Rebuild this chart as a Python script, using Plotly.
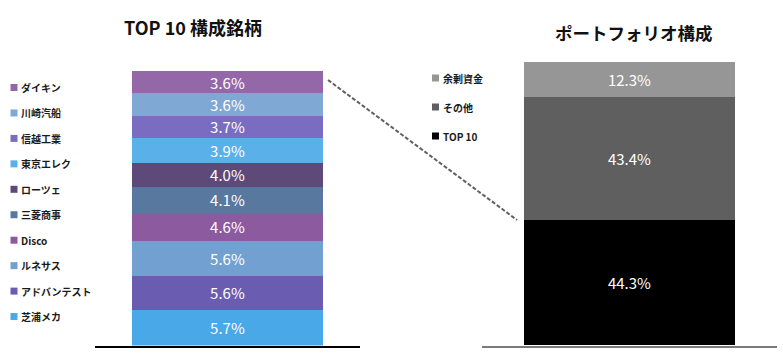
import plotly.graph_objects as go

W, H = 783, 357

# ---- data ----
top10_names = ["芝浦メカ", "アドバンテスト", "ルネサス", "Disco", "三菱商事",
               "ローツェ", "東京エレク", "信越工業", "川崎汽船", "ダイキン"]
top10_values = [5.7, 5.6, 5.6, 4.6, 4.1, 4.0, 3.9, 3.7, 3.6, 3.6]
top10_colors = ["#48A8E8", "#6A5CB0", "#72A0D0", "#8C5A9E", "#5878A0",
                "#5E4A78", "#5AB0E8", "#7A6CC0", "#7FA8D4", "#9468A8"]

port_names = ["TOP 10", "その他", "余剰資金"]
port_values = [44.3, 43.4, 12.3]
port_colors = ["#000000", "#5F5F5F", "#969696"]

title_left = "TOP 10 構成銘柄"
title_right = "ポートフォリオ構成"

FONT = "Noto Sans CJK JP"


def px_x(p):
    return p / W


def px_y(p):
    return 1 - p / H


fig = go.Figure()

for name, val, col in zip(top10_names, top10_values, top10_colors):
    fig.add_trace(go.Bar(
        x=["TOP10"], y=[val], name=name, marker=dict(color=col, line=dict(width=0)),
        text=[f"{val:.1f}%"], textposition="inside", insidetextanchor="middle",
        constraintext="none",
        textfont=dict(color="white", size=15, family=FONT),
        xaxis="x", yaxis="y", showlegend=False, cliponaxis=False,
    ))

for name, val, col in zip(port_names, port_values, port_colors):
    fig.add_trace(go.Bar(
        x=["PF"], y=[val], name=name, marker=dict(color=col, line=dict(width=0)),
        text=[f"{val:.1f}%"], textposition="inside", insidetextanchor="middle",
        constraintext="none",
        textfont=dict(color="white", size=15, family=FONT),
        xaxis="x2", yaxis="y2", showlegend=False, cliponaxis=False,
    ))

bottom_px = 345.5
left_top_px = 71
right_top_px = 62
left_total = sum(top10_values)
left_max = left_total * 1.02
left_dom_top_px = bottom_px - (bottom_px - left_top_px) * left_max / left_total
right_max = 101
right_dom_top_px = bottom_px - (bottom_px - right_top_px) * right_max / 100

fig.update_layout(
    width=W, height=H,
    margin=dict(l=0, r=0, t=0, b=0),
    paper_bgcolor="white", plot_bgcolor="white",
    barmode="stack", bargap=0.282,
    font=dict(family=FONT),
    xaxis=dict(domain=[px_x(95), px_x(360)], anchor="y", showline=True,
               linecolor="#000000", linewidth=1.5, showticklabels=False,
               ticks="", showgrid=False, zeroline=False),
    yaxis=dict(domain=[px_y(bottom_px), px_y(left_dom_top_px)], range=[0, left_max],
               anchor="x", visible=False, showgrid=False),
    xaxis2=dict(domain=[px_x(482), px_x(777)], anchor="y2", showline=True,
                linecolor="#7a7a7a", linewidth=2, showticklabels=False,
                ticks="", showgrid=False, zeroline=False),
    yaxis2=dict(domain=[px_y(bottom_px), px_y(right_dom_top_px)], range=[0, right_max],
                anchor="x2", visible=False, showgrid=False),
    showlegend=False,
)

annotations = [
    dict(text=f"<b>{title_left}</b>", x=px_x(192.5), y=px_y(27), xref="paper",
         yref="paper", showarrow=False, xanchor="center", yanchor="middle",
         font=dict(size=18, color="#111111", family=FONT)),
    dict(text=f"<b>{title_right}</b>", x=px_x(633.5), y=px_y(32), xref="paper",
         yref="paper", showarrow=False, xanchor="center", yanchor="middle",
         font=dict(size=17.5, color="#111111", family=FONT)),
]
shapes = []

# custom legend (left), top to bottom
left_items = list(zip(top10_names, top10_colors))[::-1]
for i, (name, col) in enumerate(left_items):
    cy = 87.5 + i * 25.45
    shapes.append(dict(type="rect", xref="paper", yref="paper",
                       x0=px_x(10.5), x1=px_x(17.5), y0=px_y(cy + 3.5), y1=px_y(cy - 3.5),
                       fillcolor=col, line=dict(width=0)))
    annotations.append(dict(text=f"<b>{name}</b>", x=px_x(18.5), y=px_y(cy),
                            xref="paper", yref="paper", showarrow=False,
                            xanchor="left", yanchor="middle",
                            font=dict(size=10, color="#1a1a1a", family=FONT)))

# custom legend (right), top to bottom
right_items = list(zip(port_names, port_colors))[::-1]
for i, (name, col) in enumerate(right_items):
    cy = 78 + i * 29
    shapes.append(dict(type="rect", xref="paper", yref="paper",
                       x0=px_x(432), x1=px_x(439), y0=px_y(cy + 3.5), y1=px_y(cy - 3.5),
                       fillcolor=col, line=dict(width=0)))
    annotations.append(dict(text=f"<b>{name}</b>", x=px_x(440.5), y=px_y(cy),
                            xref="paper", yref="paper", showarrow=False,
                            xanchor="left", yanchor="middle",
                            font=dict(size=10, color="#1a1a1a", family=FONT)))

# dashed connector line
shapes.append(dict(type="line", xref="paper", yref="paper",
                   x0=px_x(328), y0=px_y(80), x1=px_x(517), y1=px_y(220),
                   line=dict(color="#606060", width=2, dash="4px,2px")))

fig.update_layout(annotations=annotations, shapes=shapes)

fig.write_html(
    "out.html",
    config={"displayModeBar": False},
    post_script="document.body.style.margin='0px';document.body.style.overflow='hidden';",
)
